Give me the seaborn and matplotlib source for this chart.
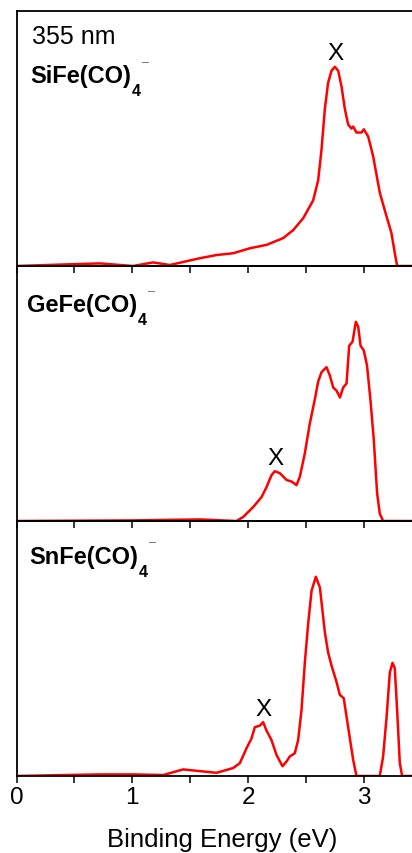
import matplotlib
matplotlib.use("Agg")
import matplotlib.pyplot as plt
import seaborn as sns
import pandas as pd
from matplotlib.ticker import MultipleLocator
from matplotlib.transforms import IdentityTransform

si_x = [0.0, 0.432, 0.72, 1.007, 1.18, 1.324, 1.583, 1.727, 1.871, 2.015, 2.159, 2.303,
        2.389, 2.476, 2.562, 2.605, 2.634, 2.663, 2.691, 2.72, 2.749, 2.778, 2.807, 2.835,
        2.864, 2.893, 2.907, 2.936, 2.979, 2.999, 3.037, 3.08, 3.138, 3.195, 3.238, 3.267,
        3.287, 3.414]
si_y = [0.0, 0.008, 0.013, 0.0, 0.018, 0.005, 0.039, 0.055, 0.064, 0.089, 0.106, 0.14,
        0.18, 0.24, 0.33, 0.43, 0.585, 0.79, 0.92, 0.98, 1.0, 0.98, 0.90, 0.79,
        0.71, 0.69, 0.70, 0.67, 0.67, 0.686, 0.65, 0.55, 0.366, 0.25, 0.165, 0.064,
        0.0, 0.0]

ge_x = [0.0, 1.007, 1.583, 1.900, 1.957, 2.044, 2.116, 2.159, 2.202, 2.231, 2.274, 2.332,
        2.375, 2.418, 2.447, 2.490, 2.533, 2.576, 2.605, 2.634, 2.677, 2.706, 2.735,
        2.764, 2.793, 2.821, 2.850, 2.873, 2.902, 2.930, 2.951, 2.971, 2.999, 3.027,
        3.056, 3.085, 3.114, 3.137, 3.166, 3.414]
ge_y = [0.0, 0.003, 0.008, 0.0, 0.02, 0.07, 0.12, 0.17, 0.23, 0.25, 0.24, 0.206,
        0.198, 0.18, 0.223, 0.34, 0.49, 0.61, 0.70, 0.747, 0.772, 0.73, 0.67,
        0.654, 0.62, 0.67, 0.69, 0.88, 0.90, 1.0, 0.975, 0.88, 0.856, 0.78,
        0.61, 0.41, 0.14, 0.037, 0.0, 0.0]

sn_x = [0.0, 0.432, 0.72, 1.007, 1.267, 1.439, 1.727, 1.871, 1.929, 1.986, 2.029, 2.058,
        2.101, 2.130, 2.159, 2.202, 2.245, 2.297, 2.332, 2.360, 2.403, 2.432, 2.461,
        2.490, 2.519, 2.548, 2.585, 2.620, 2.663, 2.691, 2.720, 2.763, 2.792, 2.826,
        2.864, 2.907, 2.936, 3.137, 3.166, 3.195, 3.224, 3.247, 3.267, 3.287, 3.310,
        3.330, 3.414]
sn_y = [0.0, 0.005, 0.008, 0.008, 0.005, 0.033, 0.016, 0.04, 0.065, 0.139, 0.188, 0.245,
        0.253, 0.27, 0.228, 0.18, 0.106, 0.049, 0.073, 0.098, 0.114, 0.18, 0.33,
        0.57, 0.767, 0.93, 1.0, 0.946, 0.72, 0.62, 0.555, 0.473, 0.408, 0.39,
        0.245, 0.082, 0.0, 0.0, 0.098, 0.29, 0.52, 0.568, 0.54, 0.33, 0.065,
        0.0, 0.0]

species = ["SiFe(CO)", "GeFe(CO)", "SnFe(CO)"]
x_marks = [(2.758, 1.07), (2.24, 0.315), (2.13, 0.335)]
xticks = [0, 1, 2, 3]

sns.set_theme(style="ticks")
plt.rcParams['font.family'] = ['Liberation Sans', 'DejaVu Sans']
plt.rcParams['text.color'] = 'black'
plt.rcParams['xtick.color'] = 'black'
plt.rcParams['xtick.labelcolor'] = 'black'
plt.rcParams['axes.labelcolor'] = 'black'

fig = plt.figure(figsize=(4.12, 8.54), dpi=100)
left, right = 16.5 / 412, 1.0
top_px, bot_px = 12, 777
ph = (bot_px - top_px) / 3
axes = []
for i in range(3):
    t = top_px + i * ph
    ax = fig.add_axes([left, 1 - (t + ph) / 854, right - left, ph / 854])
    axes.append(ax)

datasets = [(si_x, si_y), (ge_x, ge_y), (sn_x, sn_y)]
label_y = [0.72, 0.825, 0.837]
label_x = [0.034, 0.026, 0.032]
main_labels = []
for i, (ax, (xs, ys)) in enumerate(zip(axes, datasets)):
    df = pd.DataFrame({"x": xs, "y": ys})
    sns.lineplot(data=df, x="x", y="y", ax=ax, color="#ff0000", lw=1.8,
                 sort=False, estimator=None)
    ax.set_xlim(0, (412 - 16.5) / 115.8)
    ax.set_ylim(0, 1.28)
    ax.set_yticks([])
    ax.set_ylabel("")
    ax.xaxis.set_major_locator(MultipleLocator(1))
    ax.xaxis.set_minor_locator(MultipleLocator(0.5))
    ax.tick_params(axis='x', which='both', direction='out', length=5, width=1.1,
                   color='black', top=False, bottom=True)
    for s in ['left', 'top', 'bottom']:
        ax.spines[s].set_visible(True)
        ax.spines[s].set_color('black')
        ax.spines[s].set_linewidth(1.3)
    ax.spines['right'].set_visible(False)
    ax.patch.set_alpha(0)
    tx = ax.text(label_x[i], label_y[i], species[i], transform=ax.transAxes,
                 fontsize=17, fontweight='bold', va='baseline', ha='left',
                 color='black')
    main_labels.append((ax, tx, label_x[i], label_y[i]))
    mx, my = x_marks[i]
    ax.text(mx, my, "X", fontsize=17.5, ha='center', va='center', color='black')
    if i < 2:
        ax.set_xticklabels([])
        ax.set_xlabel("")
    else:
        ax.set_xticks(xticks)
        ax.set_xticklabels([str(v) for v in xticks], fontsize=17.5, color='black')
        ax.tick_params(axis='x', which='major', pad=2)
        ax.set_xlabel("Binding Energy (eV)", fontsize=18.5, labelpad=1, color='black')
        ax.xaxis.set_label_coords(0.52, -0.2)

axes[0].text(0.039, 0.90, "355 nm", transform=axes[0].transAxes, fontsize=18,
             va='center', ha='left', color='black')

# subscript 4 and superscript minus placed after each formula
fig.canvas.draw()
renderer = fig.canvas.get_renderer()
for ax, tx, lx, ly in main_labels:
    bb = tx.get_window_extent(renderer)
    bx, by = ax.transAxes.transform((lx, ly))
    fig.text(bb.x1 + 0.5, by - 13, "4", fontsize=11.5, fontweight='bold',
             transform=IdentityTransform(), va='baseline', ha='left', color='black')
    fig.text(bb.x1 + 11, by + 20, "\u2013", fontsize=9, fontweight='normal',
             transform=IdentityTransform(), va='center', ha='left', color='#666666')

fig.savefig("out.png", dpi=100)
